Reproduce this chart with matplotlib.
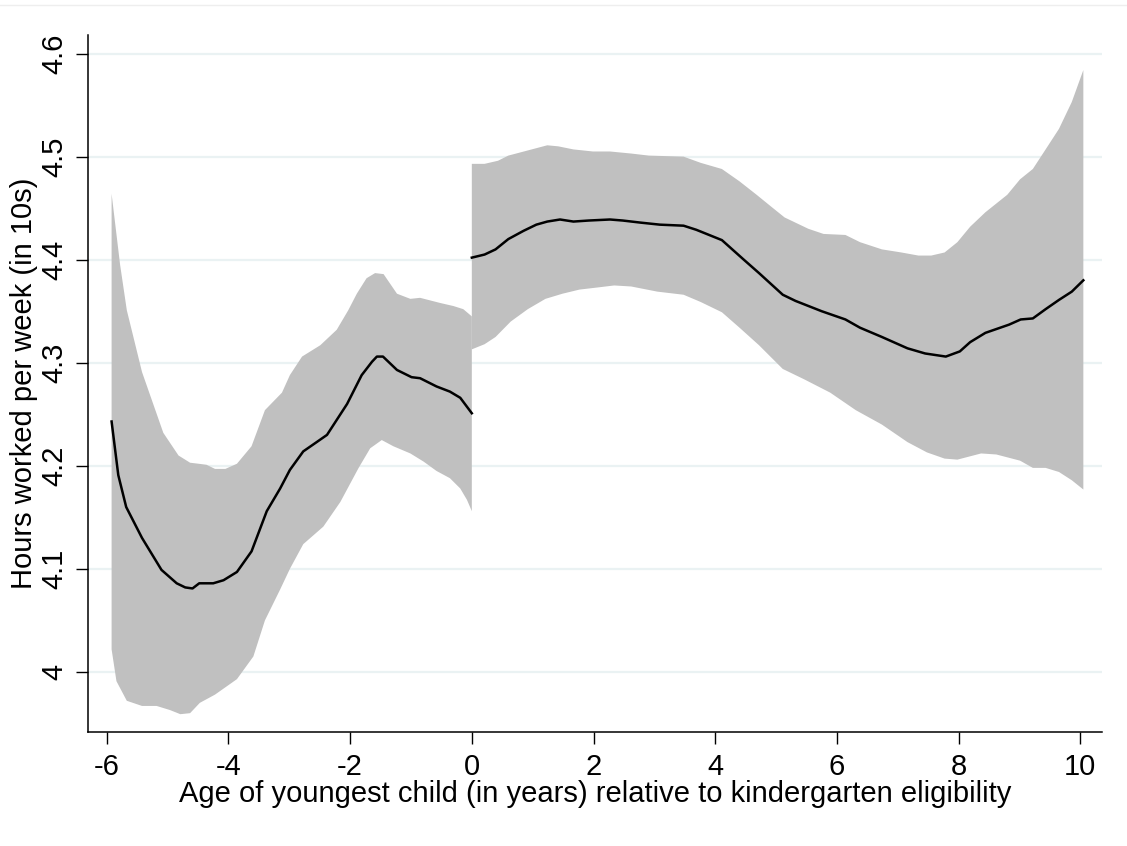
import matplotlib
matplotlib.use("Agg")
import matplotlib.pyplot as plt
from matplotlib.lines import Line2D
import numpy as np

plt.rcParams['font.family'] = ['Liberation Sans', 'DejaVu Sans']

# ---- data: left of eligibility cutoff ----
x_left = [-5.92, -5.81, -5.68, -5.42, -5.10, -4.85, -4.71, -4.59, -4.48, -4.25,
          -4.08, -3.86, -3.62, -3.37, -3.15, -2.99, -2.77, -2.55, -2.38, -2.05,
          -1.81, -1.64, -1.56, -1.46, -1.23, -0.99, -0.85, -0.58, -0.36, -0.19, 0.0]
mean_left = [4.243, 4.191, 4.160, 4.130, 4.099, 4.086, 4.082, 4.081, 4.086, 4.086,
             4.089, 4.097, 4.117, 4.156, 4.178, 4.196, 4.214, 4.223, 4.230, 4.260,
             4.288, 4.301, 4.306, 4.306, 4.293, 4.286, 4.285, 4.277, 4.272, 4.266, 4.251]

xu_left = [-5.92, -5.78, -5.67, -5.42, -5.07, -4.82, -4.63, -4.49, -4.36, -4.22,
           -4.05, -3.86, -3.62, -3.40, -3.12, -2.99, -2.79, -2.49, -2.22, -2.03,
           -1.89, -1.73, -1.59, -1.45, -1.23, -1.01, -0.85, -0.52, -0.30, -0.14, 0.0]
upper_left = [4.464, 4.395, 4.351, 4.291, 4.232, 4.210, 4.203, 4.202, 4.201, 4.197,
              4.197, 4.202, 4.219, 4.254, 4.271, 4.288, 4.306, 4.317, 4.332, 4.351,
              4.367, 4.382, 4.387, 4.386, 4.367, 4.362, 4.363, 4.358, 4.355, 4.352, 4.345]

xl_left = [-5.92, -5.84, -5.67, -5.42, -5.18, -4.96, -4.79, -4.63, -4.47, -4.22,
           -3.86, -3.59, -3.40, -3.15, -2.99, -2.77, -2.44, -2.16, -1.86, -1.67,
           -1.48, -1.29, -1.01, -0.79, -0.58, -0.36, -0.19, -0.08, 0.0]
lower_left = [4.022, 3.991, 3.972, 3.967, 3.967, 3.963, 3.959, 3.960, 3.970, 3.978,
              3.993, 4.015, 4.050, 4.080, 4.100, 4.124, 4.141, 4.165, 4.198, 4.217,
              4.225, 4.219, 4.212, 4.204, 4.195, 4.188, 4.178, 4.167, 4.156]

# ---- data: right of eligibility cutoff ----
x_right = [0.0, 0.21, 0.39, 0.60, 0.85, 1.06, 1.24, 1.45, 1.67, 1.92, 2.27, 2.48,
           2.77, 3.09, 3.48, 3.69, 3.90, 4.11, 4.47, 4.72, 5.11, 5.32, 5.75, 6.14,
           6.38, 6.74, 7.16, 7.45, 7.79, 8.02, 8.19, 8.44, 8.83, 9.02, 9.22, 9.43,
           9.65, 9.86, 10.05]
mean_right = [4.402, 4.405, 4.410, 4.420, 4.428, 4.434, 4.437, 4.439, 4.437, 4.438,
              4.439, 4.438, 4.436, 4.434, 4.433, 4.429, 4.424, 4.419, 4.400, 4.387,
              4.366, 4.360, 4.350, 4.342, 4.334, 4.325, 4.314, 4.309, 4.306, 4.311,
              4.320, 4.329, 4.337, 4.342, 4.343, 4.352, 4.361, 4.369, 4.380]

xu_right = [0.0, 0.21, 0.43, 0.60, 0.92, 1.24, 1.42, 1.67, 1.99, 2.27, 2.62, 2.91,
            3.48, 3.76, 4.11, 4.40, 4.68, 4.93, 5.14, 5.53, 5.78, 6.14, 6.38, 6.74,
            7.06, 7.34, 7.55, 7.77, 7.98, 8.19, 8.44, 8.80, 9.01, 9.22, 9.43, 9.65,
            9.86, 10.05]
upper_right = [4.493, 4.493, 4.496, 4.501, 4.506, 4.511, 4.510, 4.507, 4.505, 4.505,
               4.503, 4.501, 4.500, 4.494, 4.488, 4.476, 4.463, 4.451, 4.441, 4.430,
               4.425, 4.424, 4.417, 4.410, 4.407, 4.404, 4.404, 4.407, 4.417, 4.432,
               4.446, 4.463, 4.478, 4.488, 4.507, 4.527, 4.553, 4.584]

xl_right = [0.0, 0.21, 0.39, 0.64, 0.92, 1.21, 1.49, 1.77, 2.06, 2.34, 2.62, 3.05,
            3.48, 3.76, 4.11, 4.40, 4.72, 5.11, 5.46, 5.89, 6.31, 6.74, 7.16, 7.48,
            7.77, 7.98, 8.37, 8.62, 9.01, 9.22, 9.43, 9.65, 9.86, 10.05]
lower_right = [4.313, 4.318, 4.325, 4.340, 4.352, 4.362, 4.367, 4.371, 4.373, 4.375,
               4.374, 4.369, 4.366, 4.359, 4.349, 4.334, 4.317, 4.294, 4.284, 4.271,
               4.254, 4.240, 4.223, 4.213, 4.207, 4.206, 4.212, 4.211, 4.205, 4.198,
               4.198, 4.194, 4.186, 4.177]

x_ticks = [-6, -4, -2, 0, 2, 4, 6, 8, 10]
y_ticks = [4.0, 4.1, 4.2, 4.3, 4.4, 4.5, 4.6]
y_ticklabels = ["4", "4.1", "4.2", "4.3", "4.4", "4.5", "4.6"]
x_label = "Age of youngest child (in years) relative to kindergarten eligibility"
y_label = "Hours worked per week (in 10s)"

band_color = "#C0C0C0"
grid_color = "#EAF2F3"

fig = plt.figure(figsize=(11.27, 8.46), dpi=100)
ax = fig.add_axes([0.0785, 0.1351, 0.8995, 0.8235])

for xu, up, xl, lo in [(xu_left, upper_left, xl_left, lower_left),
                       (xu_right, upper_right, xl_right, lower_right)]:
    poly_x = list(xu) + list(xl)[::-1]
    poly_y = list(up) + list(lo)[::-1]
    ax.fill(poly_x, poly_y, color=band_color, linewidth=0, zorder=2)

ax.plot(x_left, mean_left, color="black", lw=1.8, zorder=3)
ax.plot(x_right, mean_right, color="black", lw=1.8, zorder=3)

ax.set_xlim(-6.30, 10.36)
ax.set_ylim(3.942, 4.618)
ax.set_xticks(x_ticks)
ax.set_xticklabels([str(t) for t in x_ticks])
ax.set_yticks(y_ticks)
ax.set_yticklabels(y_ticklabels, rotation=90, va="center")
ax.yaxis.grid(True, color=grid_color, lw=1.6, zorder=0)
ax.set_axisbelow(True)

for s in ["top", "right"]:
    ax.spines[s].set_visible(False)
for s in ["left", "bottom"]:
    ax.spines[s].set_linewidth(1.1)
    ax.spines[s].set_color("black")

ax.tick_params(axis="both", length=8.5, width=1.0, labelsize=21)
ax.tick_params(axis="x", pad=7)
ax.tick_params(axis="y", pad=6)
ax.set_xlabel(x_label, fontsize=21, labelpad=-1)
ax.set_ylabel(y_label, fontsize=21, labelpad=2)

fig.add_artist(Line2D([0, 1], [1 - 5 / 846, 1 - 5 / 846], color="#EEEEEE", lw=1.0,
                      transform=fig.transFigure))

fig.savefig("out.png", dpi=100, facecolor="white")
